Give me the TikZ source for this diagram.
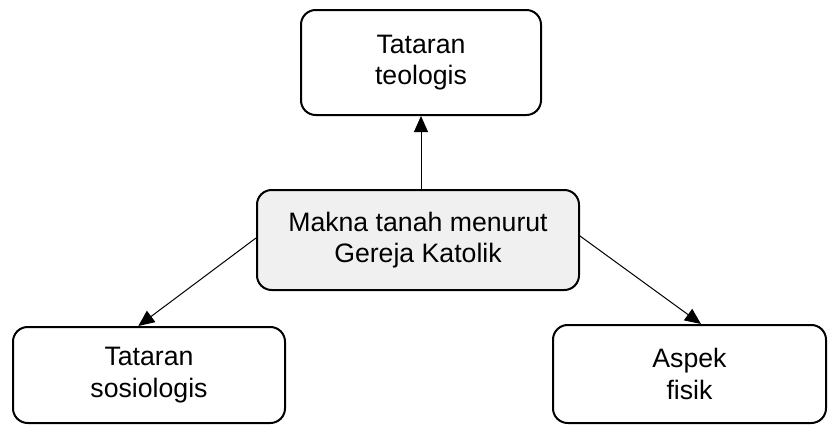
\documentclass[tikz,border=0pt]{standalone}
\usepackage{fontspec}
\setmainfont{Liberation Sans}
\usetikzlibrary{arrows.meta}

\begin{document}
\begin{tikzpicture}[x=0.75pt,y=-0.75pt,
        box/.style={draw,rounded corners=11pt,line width=1.5pt,align=center,
            font=\fontsize{20}{23.5}\selectfont},
        link/.style={line width=0.75pt,-{Triangle[length=12pt,width=10.5pt]}}]
            \useasboundingbox (0,0) rectangle (829,425);

            \node (teo) at (421,62.5) [box,minimum width=180pt,minimum height=78.75pt] {Tataran\\teologis};
            \node (mk) at (418,240) [box,fill=black!6,minimum width=241.5pt,minimum height=75pt] {Makna tanah menurut\\Gereja Katolik};
            \node (sos) at (149,375) [box,minimum width=204pt,minimum height=72pt] {Tataran\\sosiologis};
            \node (fis) at (689.5,374) [box,minimum width=204.75pt,minimum height=73.5pt] {Aspek\\fisik};

            \draw[link] (teo.south |- mk.north) -- (teo.south);
            \draw[link] ([yshift=1.5pt]mk.west) -- ([xshift=-8pt]sos.north);
            \draw[link] ([yshift=3pt]mk.east) -- ([xshift=8.6pt]fis.north);

        \end{tikzpicture}
\end{document}
